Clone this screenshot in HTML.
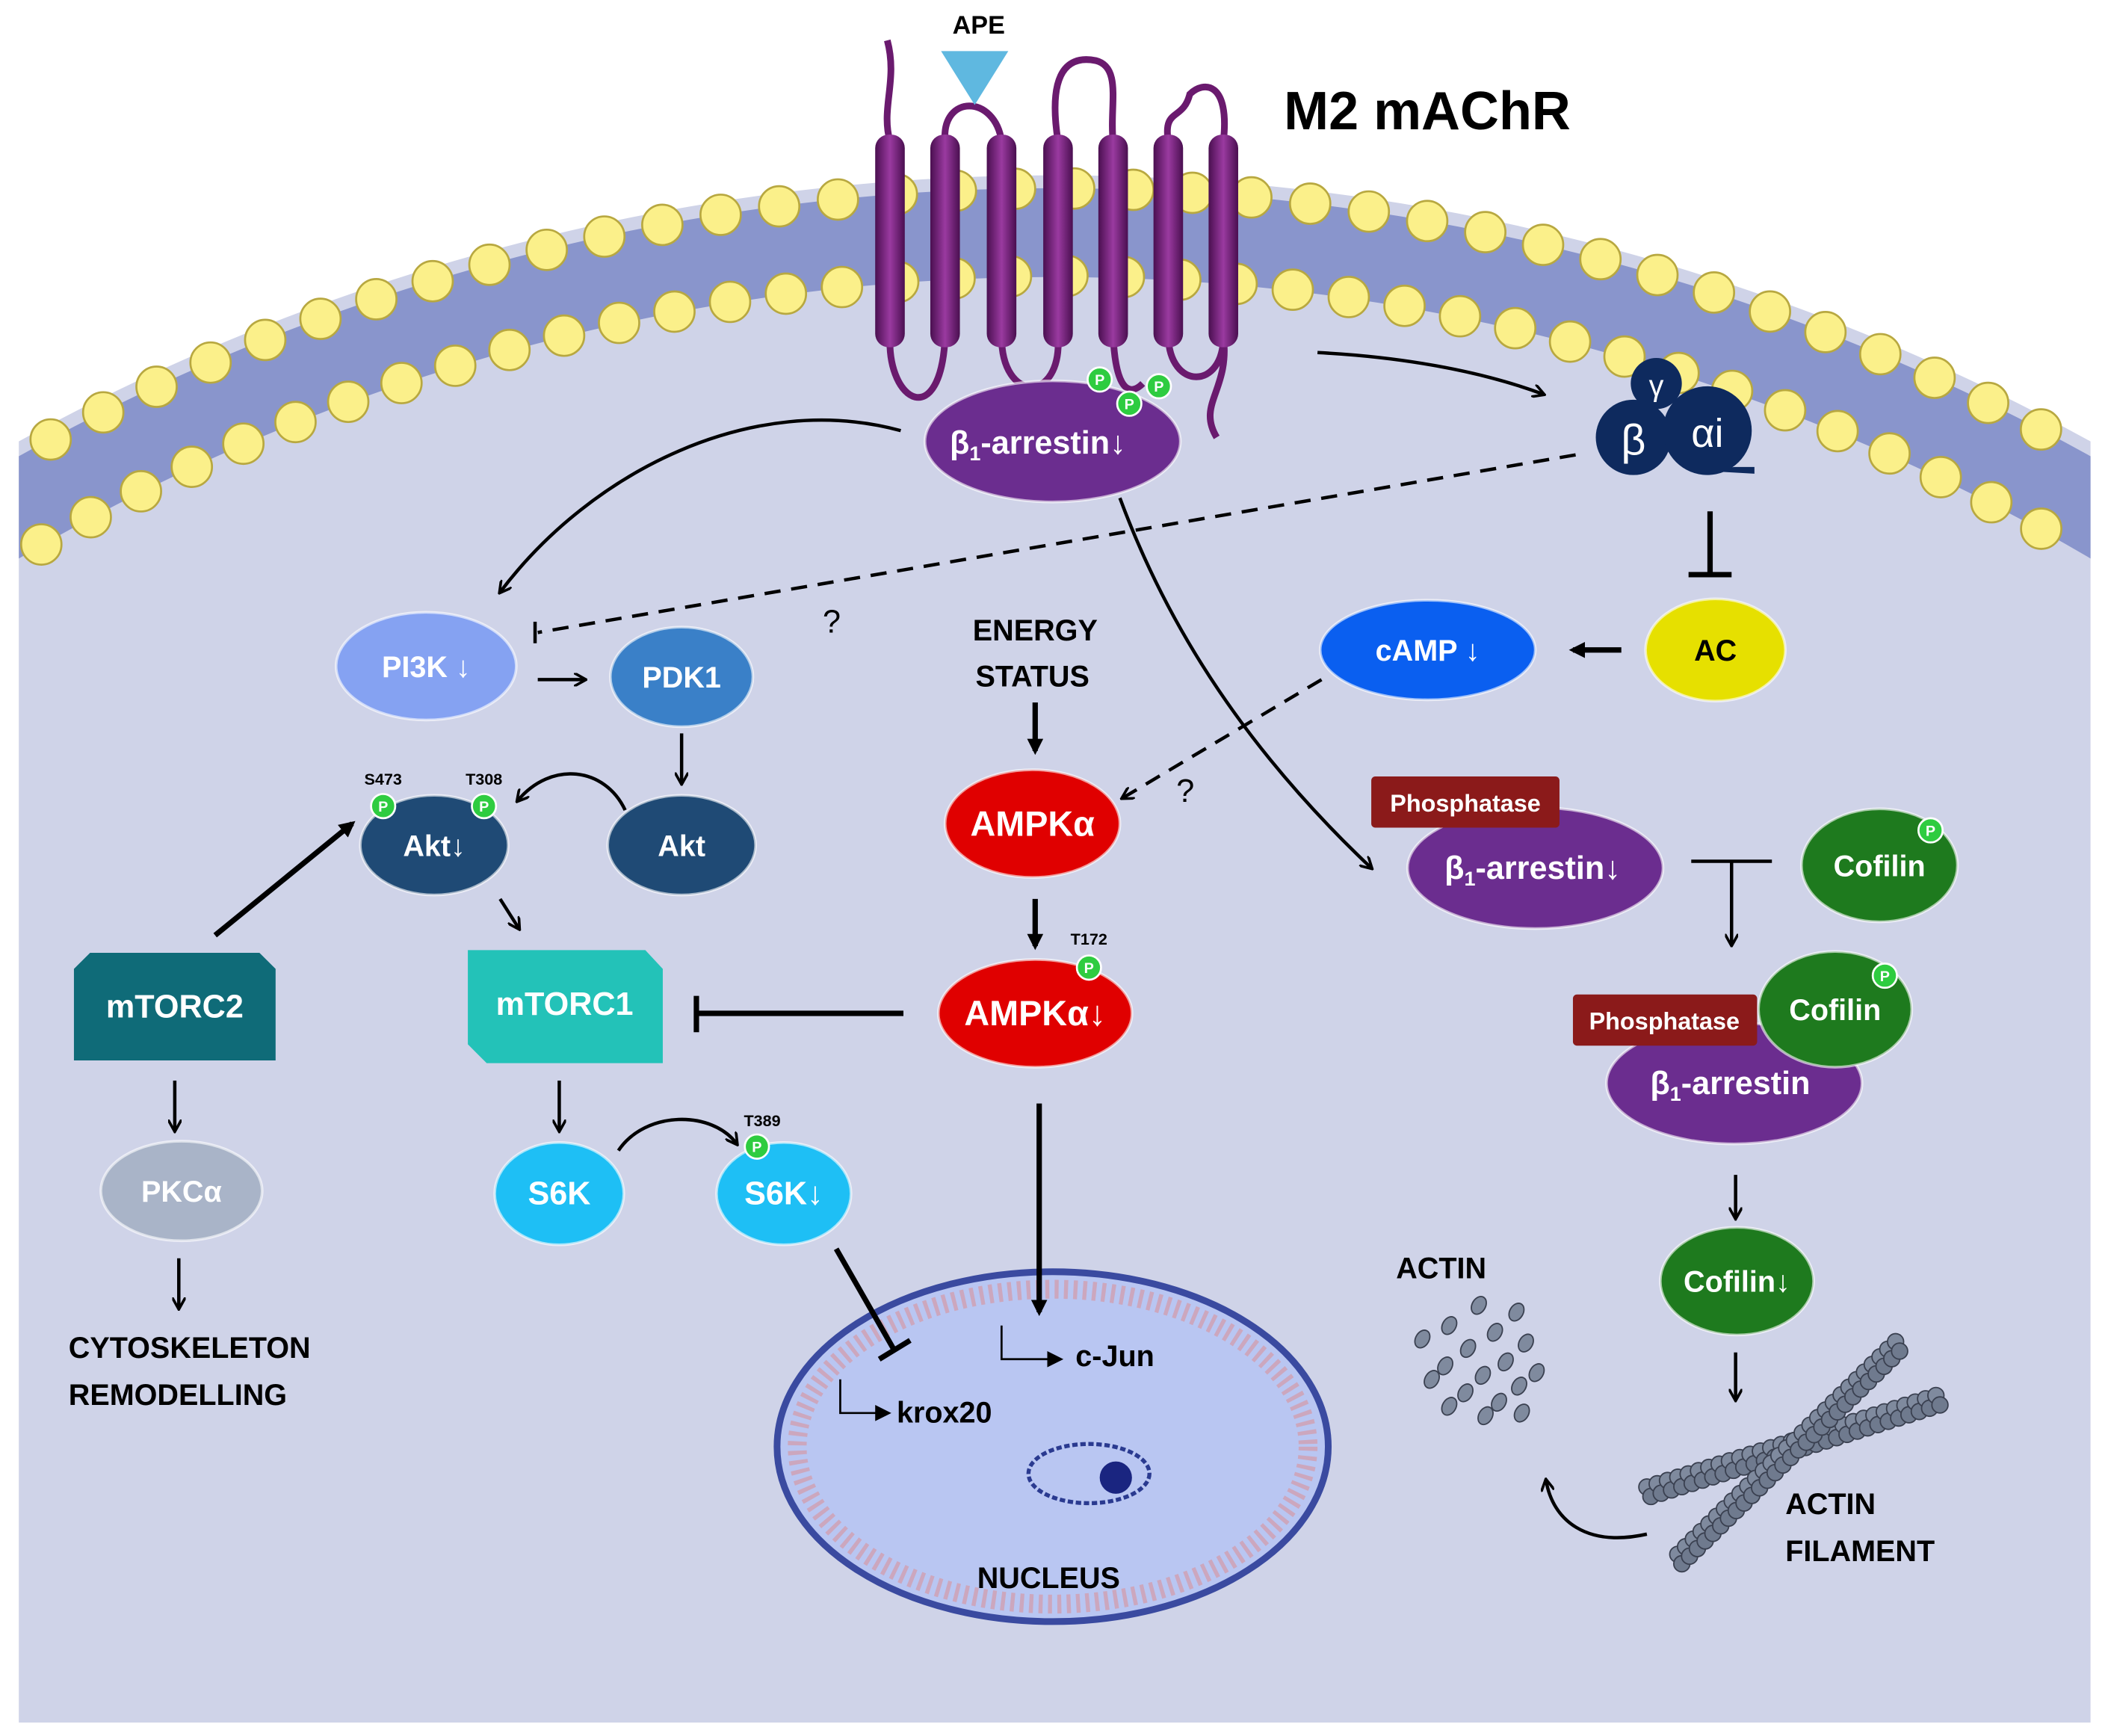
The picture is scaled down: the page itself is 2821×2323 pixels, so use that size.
<!DOCTYPE html>
<html><head><meta charset="utf-8"><style>
html,body{margin:0;padding:0;background:#fff;overflow:hidden;width:2821px;height:2323px;}
svg{display:block;vertical-align:top;}
text{font-family:"Liberation Sans",sans-serif;font-weight:bold;}
</style></head><body>
<svg id="s" width="2821" height="2323" viewBox="0 0 1568 1290" preserveAspectRatio="none" xmlns="http://www.w3.org/2000/svg">
<defs>
<marker id="ah" markerWidth="10" markerHeight="10" refX="8" refY="5" orient="auto" markerUnits="userSpaceOnUse"><path d="M0,0 L9,5 L0,10" fill="none" stroke="#000" stroke-width="2"/></marker>
<marker id="ahf" markerWidth="12" markerHeight="12" refX="9" refY="6" orient="auto" markerUnits="userSpaceOnUse"><path d="M0,0 L12,6 L0,12 Z" fill="#000"/></marker>
<linearGradient id="hel" x1="0" x2="1"><stop offset="0" stop-color="#4a0f50"/><stop offset="0.5" stop-color="#9a3aa0"/><stop offset="1" stop-color="#4a0f50"/></linearGradient>
</defs>
<path d="M14,328 A1600,1600 0 0 1 1555,328 L1555,1280 L14,1280 Z" fill="#cfd3e8"/>
<path d="M14,339 A1590,1590 0 0 1 1555,339 L1555,415 A1524,1524 0 0 0 14,415 Z" fill="#8995cc"/>
<g id="heads"></g>

<g fill="none" stroke="#6a1a6e" stroke-width="5">
<path d="M662,105 C655,80 668,60 660,30"/>
<path d="M703,105 C700,70 740,70 745,105"/>
<path d="M787,105 C780,60 790,40 815,45 C835,50 825,80 828,105"/>
<path d="M869,105 C865,80 880,90 885,70 C895,60 915,60 910,105"/>
<path d="M662,250 C660,300 700,320 703,250"/>
<path d="M745,250 C745,300 790,300 787,250"/>
<path d="M828,250 C830,290 840,295 850,285"/>
<path d="M869,250 C870,290 910,290 910,250"/>
<path d="M910,250 C915,290 890,300 905,325"/>
</g>
<g fill="url(#hel)">
<rect x="651" y="100" width="22" height="158" rx="10"/>
<rect x="692" y="100" width="22" height="158" rx="10"/>
<rect x="734" y="100" width="22" height="158" rx="10"/>
<rect x="776" y="100" width="22" height="158" rx="10"/>
<rect x="817" y="100" width="22" height="158" rx="10"/>
<rect x="858" y="100" width="22" height="158" rx="10"/>
<rect x="899" y="100" width="22" height="158" rx="10"/>
</g>
<path d="M700,38 L750,38 L725,78 Z" fill="#5fb8e0"/>
<text x="728" y="25" font-size="19" text-anchor="middle">APE</text>
<text x="955" y="96" font-size="40">M2 mAChR</text>

<ellipse cx="783" cy="1075" rx="205" ry="130" fill="#b9c6f2" stroke="#3a4aa0" stroke-width="5"/>
<ellipse cx="783" cy="1075" rx="190" ry="117" fill="none" stroke="#d49aa8" stroke-width="14" stroke-dasharray="3,4" opacity="0.7"/>
<ellipse cx="810" cy="1095" rx="45" ry="22" fill="none" stroke="#2a3a90" stroke-width="3" stroke-dasharray="4,2"/>
<circle cx="830" cy="1098" r="12" fill="#1a2580"/>
<text x="780" y="1180" font-size="22" text-anchor="middle">NUCLEUS</text>
<g fill="none" stroke="#000" stroke-width="1.5">
<path d="M745,985 L745,1010 L788,1010" marker-end="url(#ahf)"/>
<path d="M625,1025 L625,1050 L660,1050" marker-end="url(#ahf)"/>
</g>
<text x="800" y="1015" font-size="22">c-Jun</text>
<text x="667" y="1057" font-size="22">krox20</text>

<g fill="none" stroke="#000" stroke-width="2.5">
<path d="M670,320 C560,290 440,350 372,440" marker-end="url(#ah)"/>
<path d="M980,262 C1040,265 1100,275 1148,293" marker-end="url(#ah)"/>
<path d="M1172,338 L400,470" stroke-dasharray="12,8"/>
<path d="M398,462 L398,478"/>
<path d="M983,505 L835,593" stroke-dasharray="12,8" marker-end="url(#ah)"/>
<path d="M833,370 C870,470 930,560 1020,645" marker-end="url(#ah)"/>
<path d="M400,505 L435,505" marker-end="url(#ah)"/>
<path d="M507,545 L507,582" marker-end="url(#ah)"/>
<path d="M465,602 C450,570 410,565 385,595" marker-end="url(#ah)"/>
<path d="M372,668 L386,690" marker-end="url(#ah)"/>
<path d="M416,803 L416,840" marker-end="url(#ah)"/>
<path d="M460,855 C480,825 530,825 548,850" marker-end="url(#ah)"/>
<path d="M130,803 L130,840" marker-end="url(#ah)"/>
<path d="M133,935 L133,972" marker-end="url(#ah)"/>
<path d="M1258,640 L1318,640 M1288,640 L1288,702" marker-end="url(#ah)"/>
<path d="M1291,873 L1291,905" marker-end="url(#ah)"/>
<path d="M1291,1005 L1291,1040" marker-end="url(#ah)"/>
<path d="M1225,1140 C1180,1150 1155,1130 1150,1100" marker-end="url(#ah)"/>
</g>
<g fill="none" stroke="#000" stroke-width="4">
<path d="M1272,380 L1272,427 M1256,427 L1288,427"/>
<path d="M1206,483 L1170,483" marker-end="url(#ahf)"/>
<path d="M160,695 L262,612" marker-end="url(#ahf)"/>
<path d="M770,522 L770,558" marker-end="url(#ahf)"/>
<path d="M770,668 L770,703" marker-end="url(#ahf)"/>
<path d="M672,753 L518,753 M518,740 L518,767"/>
<path d="M773,820 L773,975" marker-end="url(#ahf)"/>
<path d="M622,928 L665,1003 M654,1010 L677,996"/>
</g>
<text x="612" y="470" font-size="24" style="font-weight:normal">?</text>
<text x="875" y="596" font-size="24" style="font-weight:normal">?</text>

<g fill="#0e2a5e">
<circle cx="1232" cy="285" r="19"/>
<circle cx="1215" cy="325" r="28"/>
<circle cx="1270" cy="320" r="33"/>
<path d="M1270,350 L1305,352 L1305,347 L1290,347 Z"/>
</g>
<text x="1232" y="294" font-size="22" fill="#fff" text-anchor="middle" style="font-weight:normal">γ</text>
<text x="1215" y="338" font-size="32" fill="#fff" text-anchor="middle" style="font-weight:normal">β</text>
<text x="1270" y="332" font-size="30" fill="#fff" text-anchor="middle" style="font-weight:normal">αi</text>

<g stroke="#fff" stroke-width="2" stroke-opacity="0.6">
<ellipse cx="783" cy="328" rx="95" ry="45" fill="#6b2d8f"/>
<ellipse cx="1276" cy="483" rx="52" ry="38" fill="#e6e000"/>
<ellipse cx="1062" cy="483" rx="80" ry="37" fill="#0a5ff0"/>
<ellipse cx="317" cy="495" rx="67" ry="40" fill="#85a2f2"/>
<ellipse cx="507" cy="503" rx="53" ry="37" fill="#3a80c8"/>
<ellipse cx="507" cy="628" rx="55" ry="37" fill="#1f4a75"/>
<ellipse cx="323" cy="628" rx="55" ry="37" fill="#1f4a75"/>
<ellipse cx="135" cy="885" rx="60" ry="37" fill="#a9b4c8"/>
<ellipse cx="416" cy="887" rx="48" ry="38" fill="#1ebff5"/>
<ellipse cx="583" cy="887" rx="50" ry="38" fill="#1ebff5"/>
<ellipse cx="768" cy="612" rx="65" ry="40" fill="#e00000"/>
<ellipse cx="770" cy="753" rx="72" ry="40" fill="#e00000"/>
<ellipse cx="1142" cy="645" rx="95" ry="45" fill="#6b2d8f"/>
<ellipse cx="1398" cy="643" rx="58" ry="42" fill="#1e7a1e"/>
<ellipse cx="1290" cy="805" rx="95" ry="45" fill="#6b2d8f"/>
<ellipse cx="1365" cy="750" rx="57" ry="43" fill="#1e7a1e"/>
<ellipse cx="1292" cy="952" rx="57" ry="40" fill="#1e7a1e"/>
</g>
<path d="M55,720 L67,708 L193,708 L205,720 L205,788 L55,788 Z" fill="#0f6b78"/>
<path d="M348,706 L480,706 L493,720 L493,790 L362,790 L348,776 Z" fill="#23c2b8"/>
<rect x="1020" y="577" width="140" height="38" rx="3" fill="#8b1a1a"/>
<rect x="1170" y="739" width="137" height="38" rx="3" fill="#8b1a1a"/>

<g fill="#fff" text-anchor="middle">
<text x="772" y="337" font-size="24">β<tspan font-size="15" dy="5">1</tspan><tspan dy="-5">-arrestin↓</tspan></text>
<text x="1276" y="491" font-size="22" fill="#000">AC</text>
<text x="1062" y="491" font-size="22">cAMP ↓</text>
<text x="317" y="503" font-size="22">PI3K ↓</text>
<text x="507" y="511" font-size="22">PDK1</text>
<text x="507" y="636" font-size="22">Akt</text>
<text x="323" y="636" font-size="22">Akt↓</text>
<text x="135" y="893" font-size="22">PKCα</text>
<text x="416" y="895" font-size="24">S6K</text>
<text x="583" y="895" font-size="24">S6K↓</text>
<text x="768" y="621" font-size="26">AMPKα</text>
<text x="770" y="762" font-size="26">AMPKα↓</text>
<text x="1140" y="653" font-size="24">β<tspan font-size="15" dy="5">1</tspan><tspan dy="-5">-arrestin↓</tspan></text>
<text x="1398" y="651" font-size="22">Cofilin</text>
<text x="1287" y="813" font-size="24">β<tspan font-size="15" dy="5">1</tspan><tspan dy="-5">-arrestin</tspan></text>
<text x="1365" y="758" font-size="22">Cofilin</text>
<text x="1292" y="960" font-size="22">Cofilin↓</text>
<text x="130" y="756" font-size="24">mTORC2</text>
<text x="420" y="754" font-size="24">mTORC1</text>
<text x="1090" y="603" font-size="18">Phosphatase</text>
<text x="1238" y="765" font-size="18">Phosphatase</text>
</g>

<g id="pb"></g>
<g font-size="12" text-anchor="middle">
<text x="285" y="583">S473</text><text x="360" y="583">T308</text>
<text x="810" y="702">T172</text><text x="567" y="837">T389</text>
</g>

<g font-size="22">
<text x="770" y="476" text-anchor="middle">ENERGY</text>
<text x="768" y="510" text-anchor="middle">STATUS</text>
<text x="51" y="1009">CYTOSKELETON</text>
<text x="51" y="1044">REMODELLING</text>
<text x="1072" y="950" text-anchor="middle">ACTIN</text>
<text x="1328" y="1125">ACTIN</text>
<text x="1328" y="1160">FILAMENT</text>
</g>
<g id="actin"></g>
<script>
var NS="http://www.w3.org/2000/svg";
function el(p,t,a){var e=document.createElementNS(NS,t);for(var k in a)e.setAttribute(k,a[k]);p.appendChild(e);return e;}
var h=document.getElementById('heads');
[[1590,44],[1525,42]].forEach(function(r){
 var R=r[0],step=r[1]/R;
 for(var a=-Math.PI/2-0.6;a<-Math.PI/2+0.6;a+=step){
  var x=785+R*Math.cos(a),y=1730+R*Math.sin(a);
  if(x<28||x>1541)continue;
  el(h,'circle',{cx:x,cy:y,r:15,fill:'#fbf08a',stroke:'#b8a840','stroke-width':1.5});
 }});
var pb=document.getElementById('pb');
[[818,282],[840,300],[862,287],[285,599],[360,599],[810,719],[563,852],[1436,617],[1402,725]].forEach(function(p){
 el(pb,'circle',{cx:p[0],cy:p[1],r:9,fill:'#2ecc40',stroke:'#fff','stroke-width':1.5});
 var t=el(pb,'text',{x:p[0],y:p[1]+4,'font-size':11,fill:'#fff','text-anchor':'middle'});t.textContent='P';
});
var ac=document.getElementById('actin');
var pts=[[1100,970],[1128,975],[1078,985],[1112,990],[1135,998],[1058,995],[1092,1002],[1120,1012],[1143,1020],[1075,1015],[1103,1022],[1130,1030],[1065,1025],[1090,1035],[1115,1042],[1078,1045],[1105,1052],[1132,1050]];
pts.forEach(function(p){el(ac,'ellipse',{cx:p[0],cy:p[1],rx:5,ry:7,fill:'#7f8a9e',stroke:'#3a4050','stroke-width':1,transform:'rotate(30 '+p[0]+' '+p[1]+')'});});
function fil(x1,y1,x2,y2){var n=28;for(var i=0;i<=n;i++){var t=i/n,x=x1+(x2-x1)*t,y=y1+(y2-y1)*t;
 el(ac,'circle',{cx:x,cy:y-3,r:6,fill:'#7f8a9e',stroke:'#3a4050','stroke-width':1});
 el(ac,'circle',{cx:x+3,cy:y+4,r:6,fill:'#6f7a8e',stroke:'#3a4050','stroke-width':1});}}
fil(1225,1108,1440,1040);fil(1248,1158,1410,1000);
</script>
</svg>
</body></html>
